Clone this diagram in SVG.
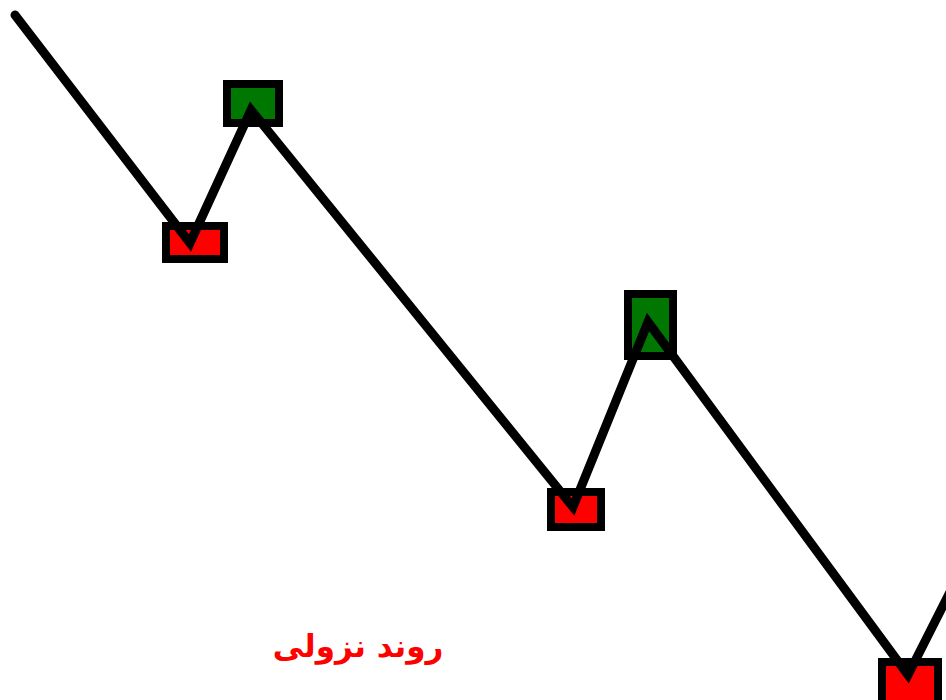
<svg xmlns="http://www.w3.org/2000/svg" width="946" height="700" viewBox="0 0 946 700">
<style>
.low{fill:#ff0000;stroke:#000;stroke-width:8}
.high{fill:#007700;stroke:#000;stroke-width:8}
.trend{fill:none;stroke:#000;stroke-width:9;stroke-linejoin:miter;stroke-linecap:round}
.lbl{font-family:"DejaVu Sans",sans-serif;font-weight:bold;font-size:31px;fill:#ff0000}
</style>
<rect width="946" height="700" fill="#fff"/>
<g id="low1"><rect class="low" x="166" y="226" width="58" height="33"/></g>
<g id="high1"><rect class="high" x="227" y="84" width="52" height="39"/></g>
<g id="low2"><rect class="low" x="551" y="492" width="50" height="35"/></g>
<g id="high2"><rect class="high" x="628" y="294" width="45" height="62"/></g>
<g id="low3"><rect class="low" x="882" y="662" width="56" height="44"/></g>
<g id="connectors">
<path class="trend" d="M15,15 L190,243 L251,110 L573,507 L648,322 L908,675 L950,592"/>
</g>
<g id="label"><text class="lbl" x="358" y="657" text-anchor="middle" direction="rtl">روند نزولی</text></g>
</svg>
